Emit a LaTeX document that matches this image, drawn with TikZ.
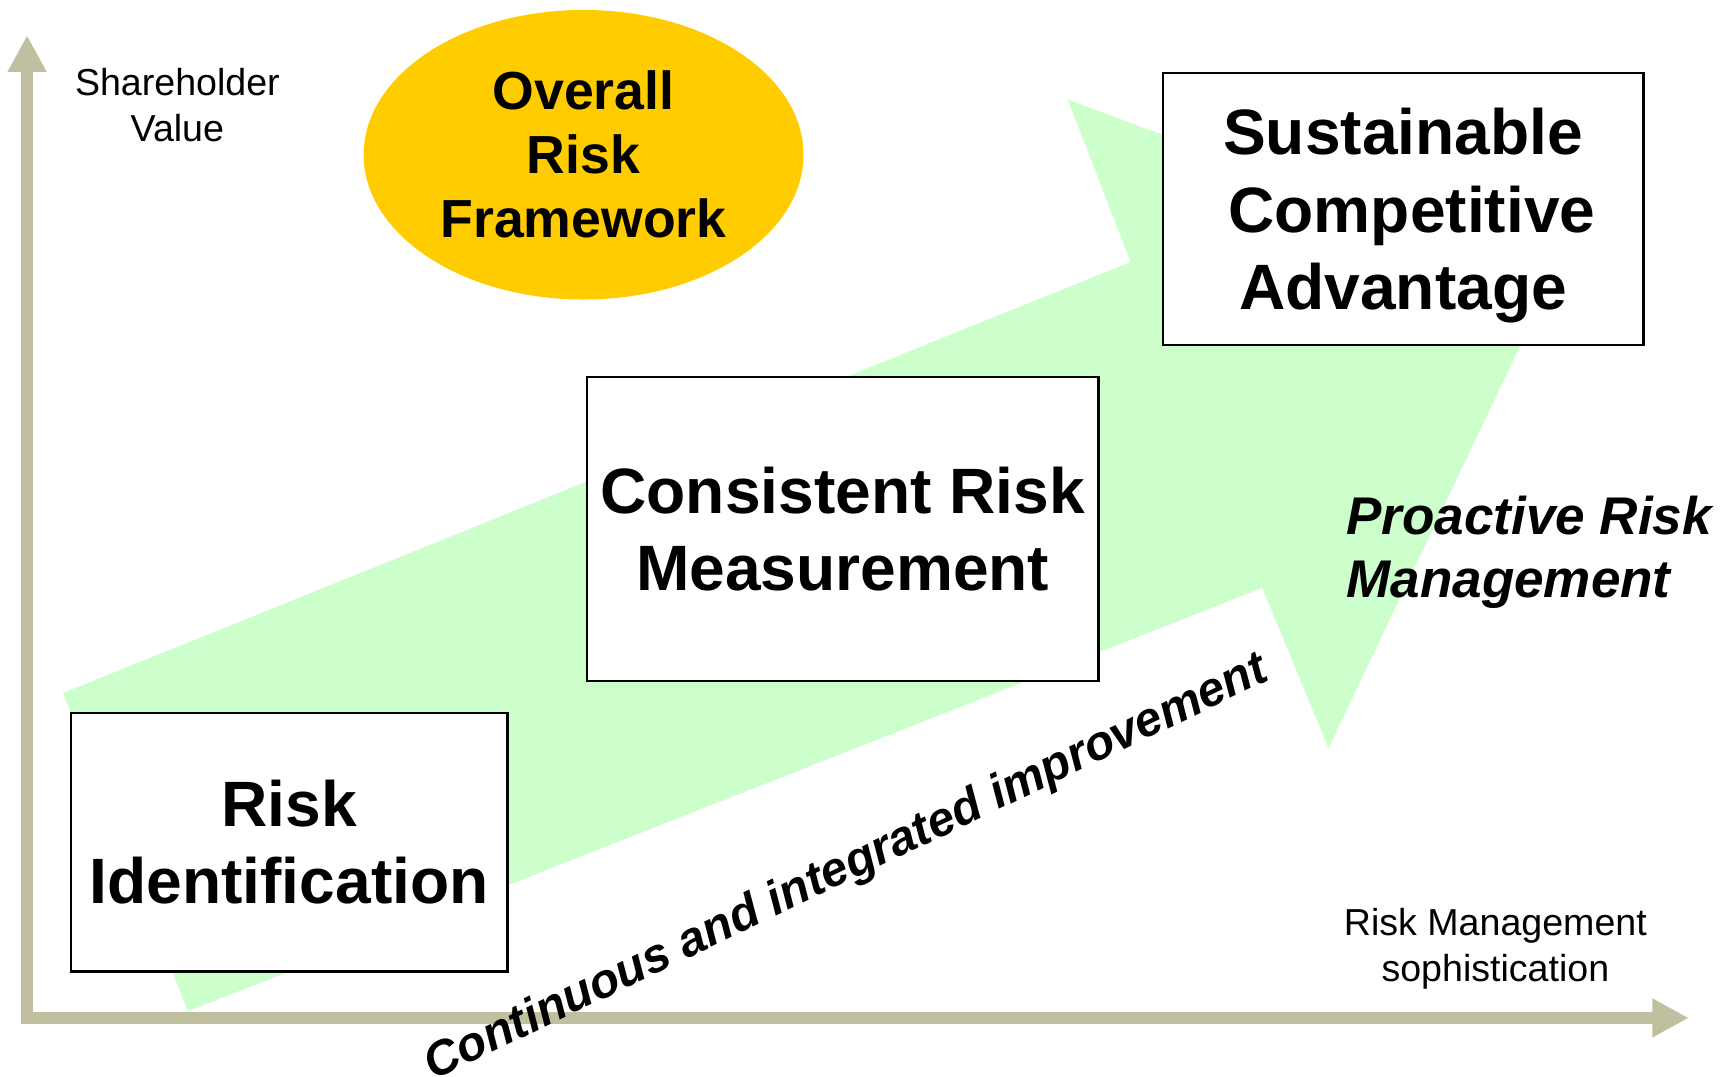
\documentclass[tikz,border=0pt]{standalone}
\usepackage{fontspec}
\setmainfont{Liberation Sans}
\usetikzlibrary{shapes.geometric,arrows.meta}
\definecolor{arrowgreen}{HTML}{CCFFCC}
\definecolor{axiscol}{HTML}{C0C0A0}
\definecolor{ovalyellow}{HTML}{FFCC00}
\begin{document}
\begin{tikzpicture}[x=1pt,y=-1pt,
  box/.style={draw=black, line width=2.2pt, fill=white, rectangle, inner sep=0pt,
    align=center, font=\fontsize{58}{70}\selectfont\bfseries},
  axisline/.style={draw=axiscol, line width=11pt, line cap=rect,
    -{Triangle[length=33pt,width=33pt]}},
  axislabel/.style={anchor=north, inner sep=0pt, align=center,
    font=\fontsize{34}{41}\selectfont},
  oval/.style={ellipse, fill=ovalyellow, inner sep=0pt, align=center,
    font=\fontsize{48.5}{58}\selectfont\bfseries},
  emph/.style={inner sep=0pt, font=\bfseries\itshape}]
\useasboundingbox (0,0) rectangle (1568,974);

% big green arrow
\fill[arrowgreen] (57,627) -- (1023,237) -- (966,90) -- (1404,253)
  -- (1202,677) -- (1142,532) -- (170,915) -- cycle;

% axes
\coordinate (O) at (24.5,921);
\coordinate (ytop) at (24.5,32);
\coordinate (xend) at (1528,921);
\draw[axisline] (O) -- (ytop);
\draw[axisline] (O) -- (xend);

% axis labels
\node[axislabel] (shv) at (160.5,62) {Shareholder\\Value};
\node[axislabel] (rms) at (1353,822) {Risk Management\\sophistication};

% oval
\node[oval, minimum width=398pt, minimum height=262pt] (orf) at (528,140)
  {Overall\\Risk\\Framework};

% boxes
\node[box, minimum width=395pt, minimum height=234pt] (ri) at (261.5,762)
  {Risk\\Identification};
\node[box, minimum width=463pt, minimum height=275pt] (crm) at (762.5,478.5)
  {Consistent Risk\\Measurement};
\node[box, minimum width=435pt, minimum height=246pt] (sca) at (1269.5,189)
  {Sustainable\\\hspace*{16pt}Competitive\\\smash{Advantage}};

% italic labels
\node[emph, anchor=north west, align=left, font=\fontsize{48}{57}\selectfont\bfseries\itshape]
  (prm) at (1218,449) {Proactive Risk\\Management};
\node[emph, rotate=25.6, font=\fontsize{43.6}{50}\selectfont\bfseries\itshape]
  (cii) at (766,786) {Continuous and integrated improvement};
\end{tikzpicture}
\end{document}
